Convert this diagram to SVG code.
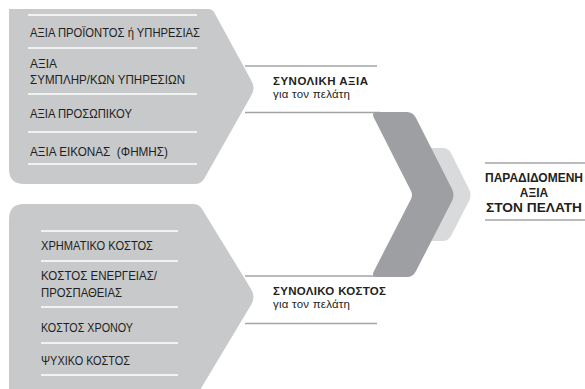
<svg xmlns="http://www.w3.org/2000/svg" width="585" height="389" viewBox="0 0 585 389">
  <style>
    .block { fill: #c8c9cb; }
    .sep { stroke: #ffffff; stroke-width: 1.3; }
    .conn { stroke: #a3a4a6; stroke-width: 1.3; fill: none; }
    .item { font-family: "Liberation Sans", Arial, sans-serif; font-size: 12px; fill: #231f20; }
    .head { font-family: "Liberation Sans", Arial, sans-serif; font-size: 11.5px; font-weight: bold; fill: #231f20; }
    .sub { font-family: "Liberation Sans", Arial, sans-serif; font-size: 11.5px; fill: #231f20; }
    .out { font-family: "Liberation Sans", Arial, sans-serif; font-size: 12px; font-weight: bold; fill: #231f20; }
  </style>
  <rect width="585" height="389" fill="#ffffff"/>

  <!-- connector lines between the blocks and the chevron -->
  <g id="connectors">
    <line class="conn" x1="245" y1="66" x2="377" y2="66"/>
    <line class="conn" x1="245" y1="112.5" x2="380" y2="112.5"/>
    <line class="conn" x1="245" y1="276" x2="380" y2="276"/>
    <line class="conn" x1="245" y1="323.5" x2="377" y2="323.5"/>
    <line class="conn" x1="485" y1="163" x2="585" y2="163"/>
    <line class="conn" x1="485" y1="220" x2="585" y2="220"/>
  </g>

  <!-- value block -->
  <g id="value-block">
    <path class="block" d="M9,9 H208 Q212,9 214,12 L251,80 Q256,88 251,96 L204,179 Q201,184 195,184 H24 Q9,184 9,169 Z"/>
    <line class="sep" x1="28" y1="15" x2="197" y2="15"/>
    <line class="sep" x1="28" y1="48" x2="197" y2="48"/>
    <line class="sep" x1="28" y1="94" x2="197" y2="94"/>
    <line class="sep" x1="28" y1="132" x2="197" y2="132"/>
    <line class="sep" x1="28" y1="164" x2="197" y2="164"/>
    <text class="item" x="30" y="37" textLength="170" lengthAdjust="spacingAndGlyphs">ΑΞΙΑ ΠΡΟΪΟΝΤΟΣ ή ΥΠΗΡΕΣΙΑΣ</text>
    <text class="item" x="30" y="68" textLength="27" lengthAdjust="spacingAndGlyphs">ΑΞΙΑ</text>
    <text class="item" x="30" y="84" textLength="155" lengthAdjust="spacingAndGlyphs">ΣΥΜΠΛΗΡ/ΚΩΝ ΥΠΗΡΕΣΙΩΝ</text>
    <text class="item" x="30" y="118" textLength="102" lengthAdjust="spacingAndGlyphs">ΑΞΙΑ ΠΡΟΣΩΠΙΚΟΥ</text>
    <text class="item" x="30" y="156" textLength="138" lengthAdjust="spacingAndGlyphs" xml:space="preserve">ΑΞΙΑ ΕΙΚΟΝΑΣ  (ΦΗΜΗΣ)</text>
  </g>

  <!-- cost block -->
  <g id="cost-block">
    <path class="block" d="M9,219 Q9,204 24,204 H193 Q199,204 202,209 L251,289 Q256,297 251,305 L197,395 H9 Z"/>
    <line class="sep" x1="41" y1="231" x2="178" y2="231"/>
    <line class="sep" x1="41" y1="261" x2="178" y2="261"/>
    <line class="sep" x1="41" y1="307" x2="178" y2="307"/>
    <line class="sep" x1="41" y1="343" x2="178" y2="343"/>
    <line class="sep" x1="41" y1="375" x2="178" y2="375"/>
    <text class="item" x="41" y="250" textLength="112" lengthAdjust="spacingAndGlyphs">ΧΡΗΜΑΤΙΚΟ ΚΟΣΤΟΣ</text>
    <text class="item" x="41" y="280" textLength="116" lengthAdjust="spacingAndGlyphs">ΚΟΣΤΟΣ ΕΝΕΡΓΕΙΑΣ/</text>
    <text class="item" x="41" y="297" textLength="81" lengthAdjust="spacingAndGlyphs">ΠΡΟΣΠΑΘΕΙΑΣ</text>
    <text class="item" x="41" y="332" textLength="92" lengthAdjust="spacingAndGlyphs">ΚΟΣΤΟΣ ΧΡΟΝΟΥ</text>
    <text class="item" x="41" y="365" textLength="89" lengthAdjust="spacingAndGlyphs">ΨΥΧΙΚΟ ΚΟΣΤΟΣ</text>
  </g>

  <!-- connector labels -->
  <g id="total-value">
    <text class="head" x="273" y="85" textLength="95">ΣΥΝΟΛΙΚΗ ΑΞΙΑ</text>
    <text class="sub" x="273" y="98" textLength="77">για τον πελάτη</text>
  </g>
  <g id="total-cost">
    <text class="head" x="273" y="295" textLength="113">ΣΥΝΟΛΙΚΟ ΚΟΣΤΟΣ</text>
    <text class="sub" x="273" y="308" textLength="77">για τον πελάτη</text>
  </g>

  <!-- chevrons -->
  <g id="chevron">
    <path fill="#d9dadb" d="M428,148 H443 Q448,148 451,153 L469,189 Q472,195 469,201 L451,236 Q448,241 443,241 H428 Z"/>
    <path fill="#9d9fa2" d="M377,112 H407 Q413,112 416,118 L452,189 Q455,195 452,201 L416,271 Q413,277 407,277 H377 Q371,277 374,271 L411,199 Q413,195 411,191 L374,118 Q371,112 377,112 Z"/>
  </g>

  <!-- delivered value label -->
  <g id="delivered-value">
    <text class="out" x="534" y="182" text-anchor="middle" textLength="98" lengthAdjust="spacingAndGlyphs">ΠΑΡΑΔΙΔΟΜΕΝΗ</text>
    <text class="out" x="534" y="197" text-anchor="middle">ΑΞΙΑ</text>
    <text class="out" x="534" y="212" text-anchor="middle" textLength="96" lengthAdjust="spacingAndGlyphs">ΣΤΟΝ ΠΕΛΑΤΗ</text>
  </g>
</svg>
